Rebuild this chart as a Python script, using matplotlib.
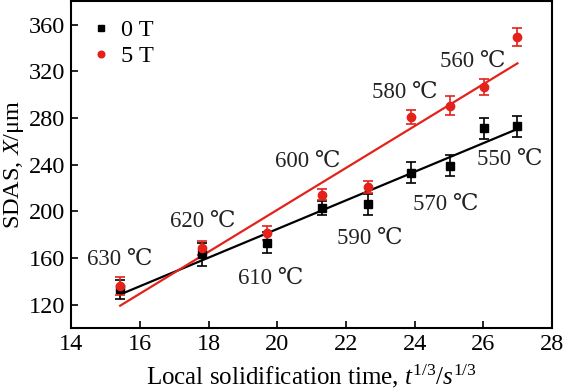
import matplotlib
matplotlib.use("Agg")
import matplotlib.pyplot as plt
import numpy as np

# cube root of local solidification time
x_vals = [15.43, 17.80, 19.70, 21.30, 22.65, 23.90, 25.03, 26.02, 26.99]
sdas_0T = [133, 163, 173, 203, 206, 233, 239, 271, 273]
err_0T = [8, 10, 9, 6, 9, 9, 9, 9, 9]
sdas_5T = [136, 168.6, 181.4, 214.3, 221, 280.9, 290.6, 306.6, 349.4]
err_5T = [8, 6, 6, 5, 5, 6, 8, 7, 8]

temp_labels = ['630 ℃', '620 ℃', '610 ℃', '600 ℃', '590 ℃', '580 ℃', '570 ℃', '560 ℃', '550 ℃']
label_pos = [(15.43, 158.6), (17.83, 191.4), (19.82, 142.9), (20.9, 242.9), (22.70, 177.1),
             (23.71, 301.5), (24.91, 205.7), (25.70, 328.6), (26.78, 244.3)]

plt.rcParams['font.family'] = ['Liberation Serif', 'DejaVu Serif']
plt.rcParams['mathtext.fontset'] = 'custom'
plt.rcParams['mathtext.it'] = 'Liberation Serif:italic'
plt.rcParams['mathtext.rm'] = 'Liberation Serif'

red = '#E3221B'

fig = plt.figure(figsize=(5.64, 3.90), dpi=100)
ax = fig.add_axes([0.126, 0.159, 0.853, 0.838])

x = np.array(x_vals)
# linear fits
p0 = np.polyfit(x, sdas_0T, 1)
p5 = np.polyfit(x, sdas_5T, 1)
xx = np.array([x.min(), x.max()])
ax.plot(xx, np.polyval(p0, xx), color='black', lw=1.6, zorder=2)
ax.plot(xx, np.polyval(p5, xx), color=red, lw=1.6, zorder=2)

ax.errorbar(x, sdas_0T, yerr=err_0T, fmt='s', color='black', ms=6, capsize=3.5,
            elinewidth=1.2, capthick=1.2, label='0 T', zorder=3)
ax.errorbar(x, sdas_5T, yerr=err_5T, fmt='o', color=red, ms=6, capsize=3.5,
            elinewidth=1.2, capthick=1.2, label='5 T', zorder=3)

for txt, (tx, ty) in zip(temp_labels, label_pos):
    ax.text(tx, ty, txt, ha='center', va='center', fontsize=16.5, color='#222222')

ax.set_xlim(14, 28)
ax.set_ylim(100, 380)
ax.set_xticks(np.arange(14, 29, 2))
ax.set_yticks(np.arange(120, 361, 40))
ax.tick_params(direction='in', length=5, width=1.2, labelsize=17.5, top=False, right=False, pad=4)
for s in ax.spines.values():
    s.set_linewidth(1.5)

ax.set_xlabel('Local solidification time, $t^{1/3}/s^{1/3}$', fontsize=18, labelpad=6)
ax.set_ylabel('SDAS, $X$/μm', fontsize=17.5, labelpad=2)

handles, labels = ax.get_legend_handles_labels()
handles = [h[0] for h in handles]
ax.legend(handles, labels, loc='upper left', frameon=False, fontsize=17.5,
          handletextpad=0.3, handlelength=1.0, labelspacing=0.15,
          borderaxespad=0.35, markerscale=0.8)

fig.savefig('out.png', dpi=100)
